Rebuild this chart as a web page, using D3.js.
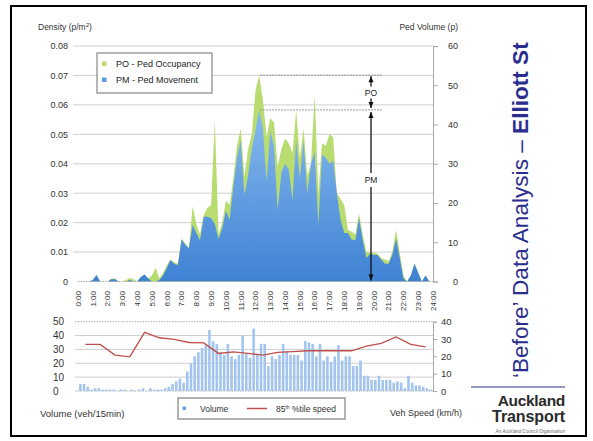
<!DOCTYPE html>
<html>
<head>
<meta charset="utf-8">
<script src="https://cdnjs.cloudflare.com/ajax/libs/d3/7.8.5/d3.min.js"></script>
<style>
body { margin: 0; background: #fff; }
svg { display: block; font-family: "Liberation Sans", Arial, sans-serif; }
</style>
</head>
<body>
<svg id="chart" width="593" height="441"></svg>
<script>
// density every 15 minutes, 0:00 .. 24:00
var pmDensity = [0,0,0,0, 0.0005,0.0022,0,0, 0,0.0008,0.0008,0, 0,0,0.0005,0,
  0,0.0015,0.0024,0.001, 0,0,0.0005,0.002, 0.0045,0.0072,0.006,0.0055,
  0.0143,0.0125,0.0113,0.0192, 0.0165,0.014,0.022,0.022, 0.0215,0.0195,0.0145,0.018,
  0.024,0.021,0.032,0.042, 0.048,0.0294,0.036,0.045, 0.0515,0.0583,0.052,0.034,
  0.051,0.046,0.0243,0.037, 0.040,0.038,0.0277,0.048, 0.035,0.048,0.030,0.040,
  0.044,0.0193,0.043,0.042, 0.040,0.041,0.030,0.021, 0.0165,0.0165,0.0143,0.014,
  0.0215,0.014,0.008,0.0095, 0.009,0.009,0.0075,0.006, 0.006,0.009,0.0145,0.008,
  0.001,0,0.002,0.006, 0.003,0,0.002,0, 0];
var poDensity = [0,0,0,0, 0.0005,0.0022,0,0, 0,0.001,0.001,0, 0,0.0005,0.0012,0.0008,
  0,0.0015,0.0024,0.001, 0.002,0.0047,0.001,0.003, 0.0055,0.0075,0.0065,0.006,
  0.0145,0.013,0.0115,0.0256, 0.0195,0.016,0.0226,0.025, 0.026,0.0548,0.016,0.020,
  0.0275,0.026,0.035,0.046, 0.052,0.0356,0.045,0.050, 0.065,0.0701,0.0617,0.049,
  0.0555,0.054,0.039,0.045, 0.0486,0.047,0.0435,0.0583, 0.042,0.052,0.036,0.040,
  0.0633,0.030,0.047,0.046, 0.050,0.049,0.030,0.028, 0.026,0.0175,0.017,0.016,
  0.023,0.016,0.010,0.0098, 0.0098,0.0095,0.008,0.0075, 0.007,0.010,0.0175,0.010,
  0.002,0,0.002,0.006, 0.003,0,0.002,0, 0];
var hourLabels = d3.range(0, 25).map(h => h + ":00");
var densityTicks = [0, 0.01, 0.02, 0.03, 0.04, 0.05, 0.06, 0.07, 0.08];
var pedTicks = [0, 10, 20, 30, 40, 50, 60];

// vehicles per 15 min and hourly 85th percentile speed
var vehVolume = [5,5,3,1, 2,2,1,1, 1,1,0,1, 1,0,1,0, 1,2,0,2, 1,1,1,2,
  3,5,7,9, 6,14,20,25, 28,31,33,44, 36,34,28,26, 34,25,23,26, 40,27,24,45,
  27,34,34,18, 25,23,26,34, 29,26,26,26, 22,36,35,34, 25,34,22,25, 21,25,33,22,
  25,25,18,18, 22,11,11,8, 8,11,8,8, 8,6,7,6, 2,11,6,4, 4,3,2,1];
var speed85 = [26.9,26.9,20.7,19.7,33.8,30.7,29.8,28.0,27.8,21.7,22.6,21.7,
  20.7,22.3,22.7,23.2,23.2,23.2,23.2,25.9,27.5,31.2,26.9,25.5];
var volumeTicks = [0, 10, 20, 30, 40, 50];
var speedTicks = [0, 10, 20, 30, 40];

var svg = d3.select("#chart");
var navy = "#2b2e8e";

svg.append("rect")
    .attr("x", 11).attr("y", 6)
    .attr("width", 575).attr("height", 430)
    .attr("fill", "none")
    .attr("stroke", "#000")
    .attr("stroke-width", 2);

// ---------- main chart ----------
var x = d3.scaleLinear().domain([0, 24]).range([78, 433]);
var yD = d3.scaleLinear().domain([0, 0.08]).range([281.5, 46]);
var yP = d3.scaleLinear().domain([0, 60]).range([281.5, 46]);

var defs = svg.append("defs");
var grad = defs.append("linearGradient")
    .attr("id", "blueFill")
    .attr("gradientUnits", "userSpaceOnUse")
    .attr("x1", 0).attr("y1", 100).attr("x2", 0).attr("y2", 281);
grad.append("stop").attr("offset", "0%").attr("stop-color", "#8cbdf0");
grad.append("stop").attr("offset", "100%").attr("stop-color", "#3f82d4");

svg.append("g")
  .selectAll("line")
  .data(densityTicks.slice(1))
  .enter()
  .append("line")
    .attr("x1", 73).attr("x2", 433)
    .attr("y1", d => yD(d)).attr("y2", d => yD(d))
    .attr("stroke", "#cfcfcf");

var area = d3.area()
    .x((d, i) => x(i / 4))
    .y0(yD(0))
    .y1(d => yD(d));

svg.append("path")
    .datum(poDensity)
    .attr("d", area)
    .attr("fill", "#b8dc70");

svg.append("path")
    .datum(pmDensity)
    .attr("d", area)
    .attr("fill", "url(#blueFill)");

svg.append("line")
    .attr("x1", x(0)).attr("x2", 433)
    .attr("y1", yD(0)).attr("y2", yD(0))
    .attr("stroke", "#aaa")
    .attr("stroke-dasharray", "1.5,1.2");

var leftAxis = svg.append("g")
    .attr("transform", "translate(77,0)")
    .call(d3.axisLeft(yD).tickValues(densityTicks).tickSize(0)
      .tickFormat(d => d === 0 ? "0" : d3.format(".2f")(d)));
leftAxis.select(".domain").remove();
leftAxis.selectAll("text")
    .attr("x", -9)
    .attr("font-size", 9)
    .attr("font-family", "Liberation Sans, Arial, sans-serif")
    .attr("fill", "#333");

var rightAxis = svg.append("g")
    .attr("transform", "translate(433,0)")
    .call(d3.axisRight(yP).tickValues(pedTicks).tickSize(5));
rightAxis.select(".domain").attr("stroke", "#aaa");
rightAxis.selectAll(".tick line").attr("stroke", "#aaa");
rightAxis.selectAll("text")
    .attr("x", 25)
    .style("text-anchor", "end")
    .attr("font-size", 9)
    .attr("font-family", "Liberation Sans, Arial, sans-serif")
    .attr("fill", "#333");

svg.append("g")
  .selectAll("text")
  .data(hourLabels)
  .enter()
  .append("text")
    .attr("transform", (d, i) => "translate(" + x(i) + ",291) rotate(-90)")
    .attr("dy", "0.35em")
    .attr("text-anchor", "end")
    .attr("font-size", 8)
    .attr("fill", "#333")
    .text(d => d);

var densTitle = svg.append("text")
    .attr("x", 38).attr("y", 30)
    .attr("font-size", 8.5)
    .attr("fill", "#333")
    .text("Density (p/m");
densTitle.append("tspan")
    .attr("font-size", 6)
    .attr("dy", -3)
    .text("2");
densTitle.append("tspan")
    .attr("dy", 3)
    .text(")");

svg.append("text")
    .attr("x", 458).attr("y", 30)
    .attr("text-anchor", "end")
    .attr("font-size", 8.5)
    .attr("fill", "#333")
    .text("Ped Volume (p)");

// legend
svg.append("rect")
    .attr("x", 97).attr("y", 53)
    .attr("width", 115).attr("height", 40)
    .attr("fill", "#fff")
    .attr("stroke", "#888")
    .attr("stroke-width", 1.2);
[["PO - Ped Occupancy", "#b8dc70", 67], ["PM - Ped Movement", "#5f9be3", 83]].forEach(e => {
  svg.append("rect")
      .attr("x", 102).attr("y", e[2] - 5.5)
      .attr("width", 4.5).attr("height", 4.5)
      .attr("fill", e[1]);
  svg.append("text")
      .attr("x", 116).attr("y", e[2])
      .attr("font-size", 9)
      .attr("fill", "#222")
      .text(e[0]);
});

// PO / PM markers
var poTop = yD(d3.max(poDensity));
var pmTop = yD(d3.max(pmDensity));
var ax = 371;
[poTop, pmTop].forEach(yy => {
  svg.append("line")
      .attr("x1", 260).attr("x2", 383)
      .attr("y1", yy).attr("y2", yy)
      .attr("stroke", "#999")
      .attr("stroke-dasharray", "2,1");
});

function arrowHead(px, py, dir) {
  svg.append("path")
      .attr("d", "M" + px + "," + py + "l-2.5," + (-6 * dir) + "l5,0z")
      .attr("fill", "#111");
}
function vline(y1, y2) {
  svg.append("line")
      .attr("x1", ax).attr("x2", ax)
      .attr("y1", y1).attr("y2", y2)
      .attr("stroke", "#111")
      .attr("stroke-width", 1.3);
}
var poMid = (poTop + pmTop) / 2;
vline(poTop + 1, poMid - 6);
vline(poMid + 6, pmTop - 2);
arrowHead(ax, poTop + 1, -1);
arrowHead(ax, pmTop - 2, 1);
svg.append("text")
    .attr("x", ax).attr("y", poMid + 3)
    .attr("text-anchor", "middle")
    .attr("font-size", 8.5)
    .attr("fill", "#222")
    .text("PO");

var pmMid = 180;
vline(pmTop + 2, pmMid - 7);
vline(pmMid + 7, yD(0) - 1);
arrowHead(ax, pmTop + 2, -1);
arrowHead(ax, yD(0) - 1, 1);
svg.append("text")
    .attr("x", ax).attr("y", pmMid + 3)
    .attr("text-anchor", "middle")
    .attr("font-size", 8.5)
    .attr("fill", "#222")
    .text("PM");

// ---------- vehicle chart ----------
var xb = d3.scaleBand().domain(d3.range(vehVolume.length)).range([78, 433]).padding(0.3);
var yV = d3.scaleLinear().domain([0, 50]).range([391, 321.7]);
var yS = d3.scaleLinear().domain([0, 40]).range([391, 321.7]);

svg.append("g")
  .selectAll("line")
  .data(volumeTicks)
  .enter()
  .append("line")
    .attr("x1", 75).attr("x2", 433)
    .attr("y1", d => yV(d)).attr("y2", d => yV(d))
    .attr("stroke", d => (d === 0 || d === 50) ? "#aaa" : "#cfcfcf")
    .attr("stroke-dasharray", d => (d === 0 || d === 50) ? "1.5,1.2" : null);

svg.append("g")
  .selectAll("rect")
  .data(vehVolume)
  .enter()
  .append("rect")
    .attr("x", (d, i) => xb(i))
    .attr("width", xb.bandwidth())
    .attr("y", d => yV(d))
    .attr("height", d => yV(0) - yV(d))
    .attr("fill", "#a3c4ee");

svg.append("path")
    .datum(speed85)
    .attr("d", d3.line().x((d, i) => x(i + 0.5)).y(d => yS(d)))
    .attr("fill", "none")
    .attr("stroke", "#c0504d")
    .attr("stroke-width", 1.4);

svg.append("g")
  .selectAll("text")
  .data(volumeTicks)
  .enter()
  .append("text")
    .attr("x", 53)
    .attr("y", d => yV(d))
    .attr("dy", "0.35em")
    .attr("font-size", 10)
    .attr("fill", "#333")
    .text(d => d);

var spdAxis = svg.append("g")
    .attr("transform", "translate(433,0)")
    .call(d3.axisRight(yS).tickValues(speedTicks).tickSize(4));
spdAxis.select(".domain").attr("stroke", "#aaa");
spdAxis.selectAll(".tick line").attr("stroke", "#aaa");
spdAxis.selectAll("text")
    .attr("x", 8)
    .attr("font-size", 9.5)
    .attr("font-family", "Liberation Sans, Arial, sans-serif")
    .attr("fill", "#333");

svg.append("text")
    .attr("x", 40).attr("y", 417)
    .attr("font-size", 9.5)
    .attr("fill", "#333")
    .text("Volume (veh/15min)");
svg.append("text")
    .attr("x", 390).attr("y", 416)
    .attr("font-size", 9)
    .attr("fill", "#333")
    .text("Veh Speed (km/h)");

svg.append("rect")
    .attr("x", 178).attr("y", 398)
    .attr("width", 167).attr("height", 21)
    .attr("fill", "#fff")
    .attr("stroke", "#999")
    .attr("stroke-width", 1.5);
svg.append("rect")
    .attr("x", 182.5).attr("y", 406.5)
    .attr("width", 3.5).attr("height", 3.5)
    .attr("fill", "#6f9fdd");
svg.append("text")
    .attr("x", 200).attr("y", 411.5)
    .attr("font-size", 8.5)
    .attr("fill", "#333")
    .text("Volume");
svg.append("line")
    .attr("x1", 247).attr("x2", 267)
    .attr("y1", 408.5).attr("y2", 408.5)
    .attr("stroke", "#c0504d")
    .attr("stroke-width", 1.5);
var spLab = svg.append("text")
    .attr("x", 276).attr("y", 411.5)
    .attr("font-size", 8.5)
    .attr("fill", "#333")
    .text("85");
spLab.append("tspan").attr("font-size", 5).attr("dy", -3).text("th");
spLab.append("tspan").attr("dy", 3).text(" %tile speed");

// ---------- side title and logo ----------
var title = svg.append("text")
    .attr("transform", "translate(528,378) rotate(-90)")
    .attr("font-size", 22.6)
    .attr("fill", navy)
    .text("\u2018Before\u2019 Data Analysis \u2013 ");
title.append("tspan")
    .attr("font-weight", "bold")
    .text("Elliott St");

svg.append("line")
    .attr("x1", 471).attr("x2", 565)
    .attr("y1", 387).attr("y2", 387)
    .attr("stroke", navy)
    .attr("stroke-width", 1.2);

svg.append("text")
    .attr("x", 565).attr("y", 405.5)
    .attr("text-anchor", "end")
    .attr("font-size", 15.5)
    .attr("font-weight", "bold")
    .attr("letter-spacing", -0.3)
    .attr("fill", "#2a2a2a")
    .text("Auckland");
svg.append("text")
    .attr("x", 565).attr("y", 421.5)
    .attr("text-anchor", "end")
    .attr("font-size", 16)
    .attr("font-weight", "bold")
    .attr("letter-spacing", -0.1)
    .attr("fill", "#2a2a2a")
    .text("Transport");
svg.append("text")
    .attr("x", 565).attr("y", 433)
    .attr("text-anchor", "end")
    .attr("font-size", 4.6)
    .attr("font-style", "italic")
    .attr("fill", "#666")
    .text("An Auckland Council Organisation");
</script>
</body>
</html>
